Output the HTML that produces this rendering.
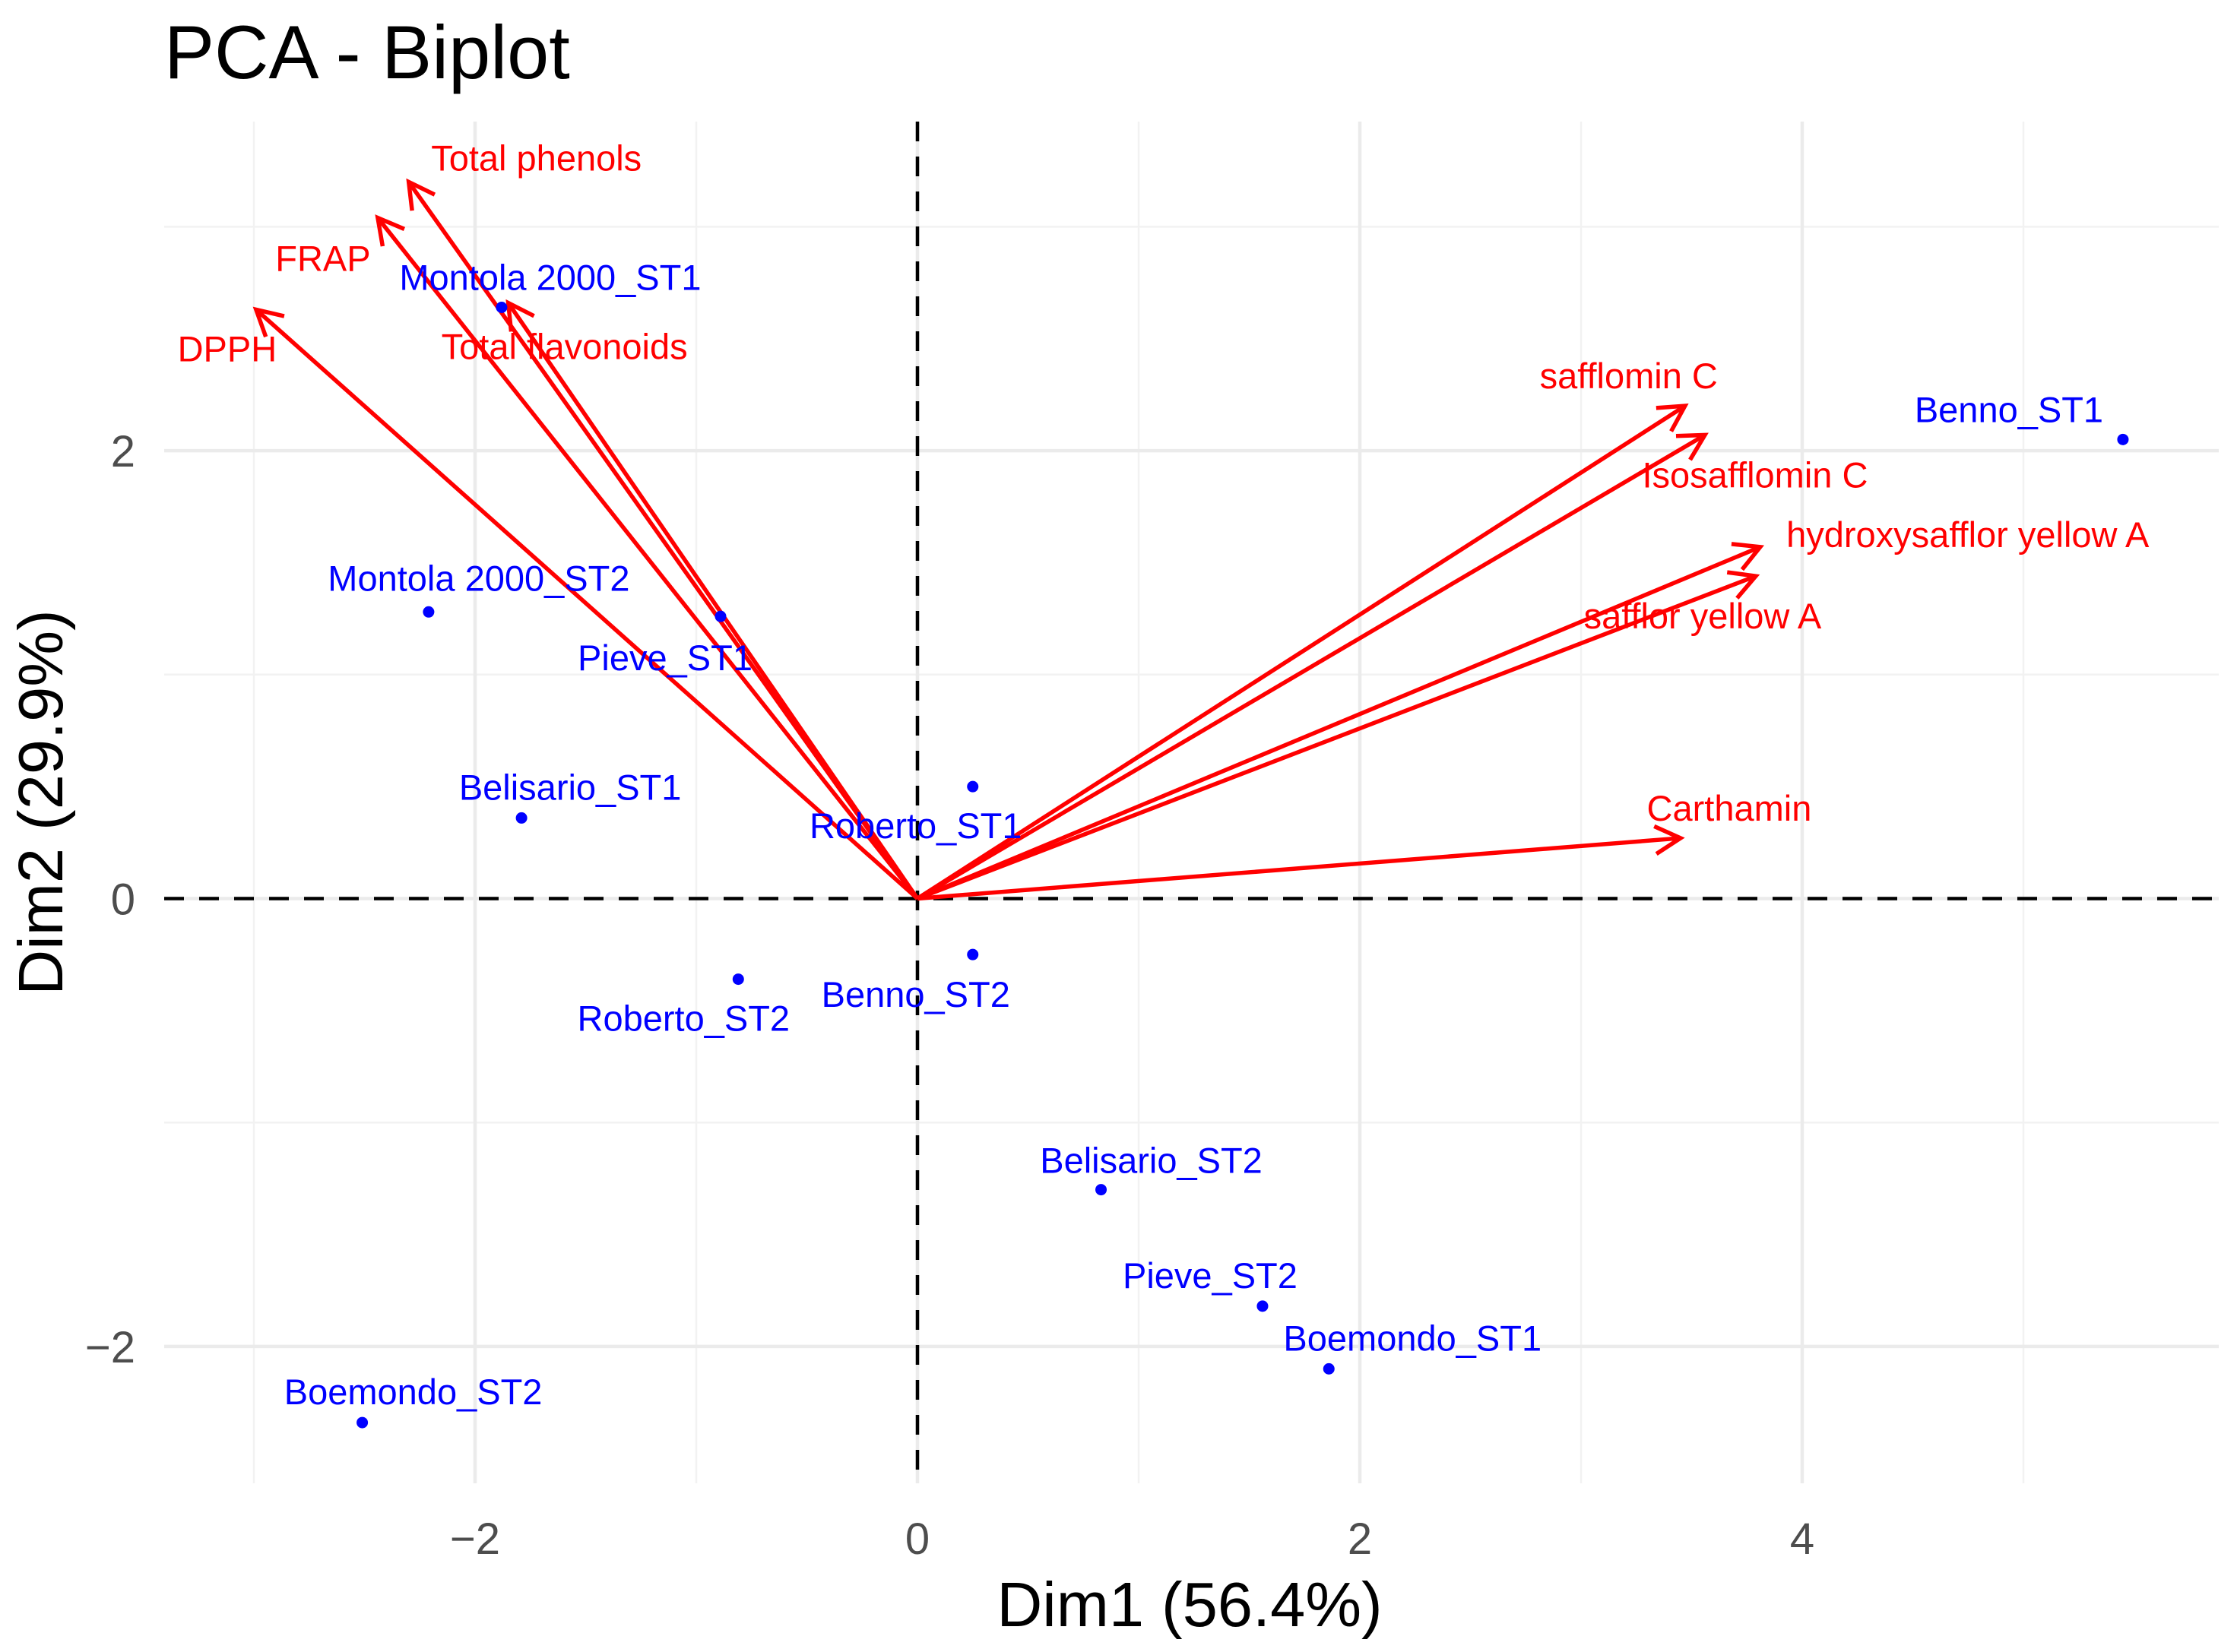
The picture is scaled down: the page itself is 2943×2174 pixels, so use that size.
<!DOCTYPE html>
<html><head><meta charset="utf-8"><style>
html,body{margin:0;padding:0;background:#fff;}
svg{display:block;font-family:"Liberation Sans",Arial,sans-serif;}
</style></head><body>
<svg id="chart" width="2943" height="2174" viewBox="0 0 2943 2174" xmlns="http://www.w3.org/2000/svg">
<text x="216" y="103" font-size="99" fill="#000">PCA - Biplot</text>
<g id="grid"></g>
<g id="axes"></g>
<g id="arrows"></g>
<g id="points"></g>
<text x="1565" y="2140" font-size="83" text-anchor="middle" fill="#000">Dim1 (56.4%)</text>
<text transform="translate(82,1056) rotate(-90)" font-size="83" text-anchor="middle" fill="#000">Dim2 (29.9%)</text>
</svg>
<script>
const xTicks = [-2, 0, 2, 4];
const yTicks = [-2, 0, 2];
const xMinor = [-3, -1, 1, 3, 5];
const yMinor = [-1, 1, 3];
const indNames = ["Benno_ST1","Montola 2000_ST1","Montola 2000_ST2","Pieve_ST1","Belisario_ST1","Roberto_ST1","Benno_ST2","Roberto_ST2","Belisario_ST2","Pieve_ST2","Boemondo_ST1","Boemondo_ST2"];
const indX = [5.45,-1.88,-2.21,-0.89,-1.79,0.25,0.25,-0.81,0.83,1.56,1.86,-2.51];
const indY = [2.05,2.64,1.28,1.26,0.36,0.50,-0.25,-0.36,-1.30,-1.82,-2.10,-2.34];
const indLabDx = [-150,64,66,-73,64,-75,-75,-72,66,-69,110,67];
const indLabDy = [-40,-40,-45,54,-41,51,52,51,-39,-41,-41,-41];
const varNames = ["Total phenols","FRAP","Total flavonoids","DPPH","safflomin C","Isosafflomin C","hydroxysafflor yellow A","safflor yellow A","Carthamin"];
const varX = [-2.30,-2.44,-1.85,-2.99,3.47,3.56,3.81,3.79,3.45];
const varY = [3.20,3.04,2.66,2.63,2.20,2.07,1.57,1.44,0.27];
const varLabDx = [168,-72,74,-38,-74,66,273,-70,64];
const varLabDy = [-32,53,57,51,-40,52,-17,52,-40];

const X0=1207, XU=291, Y0=1182.5, YU=294.7;
const L=216, R=2919, T=160, B=1952;
const sx = v => X0 + v*XU;
const sy = v => Y0 - v*YU;
const NS="http://www.w3.org/2000/svg";
function mk(tag, attrs, parent){const e=document.createElementNS(NS,tag);for(const k in attrs)e.setAttribute(k,attrs[k]);parent.appendChild(e);return e;}
const grid=document.getElementById('grid'), axes=document.getElementById('axes'), arrows=document.getElementById('arrows'), pts=document.getElementById('points');

xMinor.forEach(v=>{const e=mk('line',{x1:sx(v),x2:sx(v),y1:T,y2:B,stroke:'#f2f2f2','stroke-width':2.5},grid);

});
yMinor.forEach(v=>{const e=mk('line',{x1:L,x2:R,y1:sy(v),y2:sy(v),stroke:'#f2f2f2','stroke-width':2.5},grid);

});
xTicks.forEach(v=>{const e=mk('line',{x1:sx(v),x2:sx(v),y1:T,y2:B,stroke:'#ebebeb','stroke-width':4.5},grid);


const t=mk('text',{x:sx(v),y:2045,'font-size':58,'text-anchor':'middle',fill:'#4d4d4d'},axes);t.textContent=v<0?'\u2212'+(-v):String(v);

});
yTicks.forEach(v=>{const e=mk('line',{x1:L,x2:R,y1:sy(v),y2:sy(v),stroke:'#ebebeb','stroke-width':4.5},grid);


const t=mk('text',{x:178,y:sy(v)+21,'font-size':58,'text-anchor':'end',fill:'#4d4d4d'},axes);t.textContent=v<0?'\u2212'+(-v):String(v);

});
let h=mk('line',{x1:L,x2:R,y1:sy(0),y2:sy(0),stroke:'#000','stroke-width':4.5,'stroke-dasharray':'26,20'},axes);


let vz=mk('line',{x1:sx(0),x2:sx(0),y1:T,y2:B,stroke:'#000','stroke-width':4.5,'stroke-dasharray':'26,20'},axes);



varNames.forEach((n,i)=>{
  const x2=sx(varX[i]), y2=sy(varY[i]), x1=sx(0), y1=sy(0);
  const g=mk('g',{},arrows);
  
  
  mk('line',{x1:x1,y1:y1,x2:x2,y2:y2,stroke:'#ff0000','stroke-width':5.5},g);
  const a=Math.atan2(y2-y1,x2-x1), len=38, sp=0.5;
  const p1=[x2-len*Math.cos(a-sp), y2-len*Math.sin(a-sp)], p2=[x2-len*Math.cos(a+sp), y2-len*Math.sin(a+sp)];
  mk('polyline',{points:`${p1[0]},${p1[1]} ${x2},${y2} ${p2[0]},${p2[1]}`,fill:'none',stroke:'#ff0000','stroke-width':5.5},g);
  const t=mk('text',{x:x2+varLabDx[i],y:y2+varLabDy[i]+17,'font-size':47,'text-anchor':'middle',fill:'#ff0000'},arrows);
  t.textContent=n;
  
  
});
indNames.forEach((n,i)=>{
  const c=mk('circle',{cx:sx(indX[i]),cy:sy(indY[i]),r:7.5,fill:'#0000ff'},pts);
  
  
  const t=mk('text',{x:sx(indX[i])+indLabDx[i],y:sy(indY[i])+indLabDy[i]+17,'font-size':47,'text-anchor':'middle',fill:'#0000ff'},pts);
  t.textContent=n;
  
  
});
</script>
</body></html>
